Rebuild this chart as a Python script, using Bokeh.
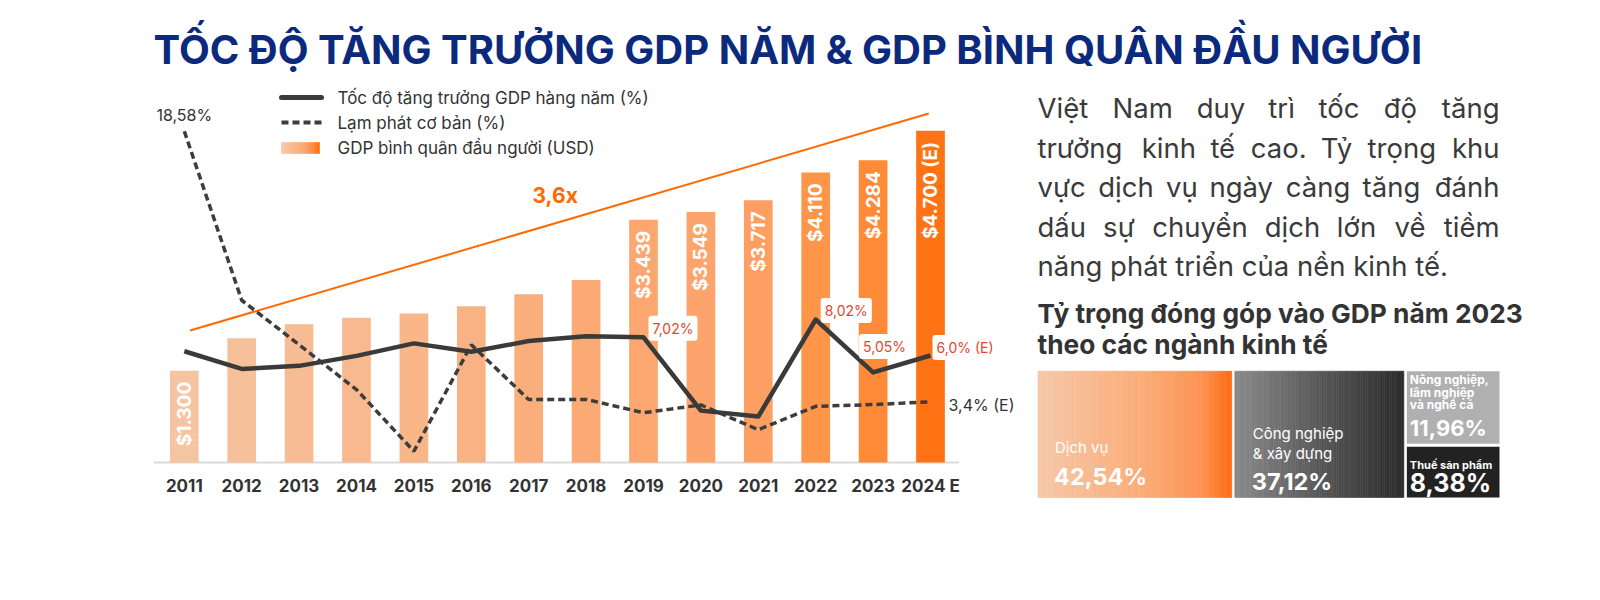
import unicodedata
import numpy as np
from math import pi
from bokeh.plotting import figure
from bokeh.models import Range1d, ColumnDataSource
from bokeh.core.properties import value
from bokeh.embed import file_html
from bokeh.resources import INLINE

# ---------------- data ----------------
years = ["2011", "2012", "2013", "2014", "2015", "2016", "2017", "2018",
         "2019", "2020", "2021", "2022", "2023", "2024 E"]
gdp_per_capita = [1300, 1760, 1960, 2050, 2110, 2215, 2385, 2587,
                  3439, 3549, 3717, 4110, 4284, 4700]
gdp_growth = [6.24, 5.25, 5.42, 5.98, 6.68, 6.21, 6.81, 7.08,
              7.02, 2.91, 2.58, 8.02, 5.05, 6.0]
core_inflation = [18.58, 9.1, 6.6, 4.09, 0.63, 6.6, 3.53, 3.54,
                  2.79, 3.23, 1.84, 3.15, 3.25, 3.4]
bar_label_years = ["2011", "2019", "2020", "2021", "2022", "2023", "2024 E"]
growth_label_years = ["2019", "2022", "2023", "2024 E"]
trend_years = [0.1, 12.97]          # year index
trend_usd = [1870, 4945]            # "3,6x" guide line

sectors = ["Dịch vụ", "Công nghiệp & xây dựng",
           "Nông nghiệp, lâm nghiệp và nghề cá", "Thuế sản phẩm"]
sector_share = [42.54, 37.12, 11.96, 8.38]

title = "TỐC ĐỘ TĂNG TRƯỞNG GDP NĂM & GDP BÌNH QUÂN ĐẦU NGƯỜI"
legend_labels = ["Tốc độ tăng trưởng GDP hàng năm (%)", "Lạm phát cơ bản (%)",
                 "GDP bình quân đầu người (USD)"]
paragraph = [
    "Việt Nam duy trì tốc độ tăng",
    "trưởng kinh tế cao. Tỷ trọng khu",
    "vực dịch vụ ngày càng tăng đánh",
    "dấu sự chuyển dịch lớn về tiềm",
    "năng phát triển của nền kinh tế.",
]
subtitle = ["Tỷ trọng đóng góp vào GDP năm 2023", "theo các ngành kinh tế"]

# ---------------- styles / layout ----------------
FONT = value("Inter")
NAVY = "#0c2a7d"
DARK = "#333333"
ORANGE = "#ff6a00"
RED = "#e8452c"
bar_colors = ["#f5c4a1", "#f6c09b", "#f7bc94", "#f8b98e", "#f8b689", "#f9b283",
              "#faae7c", "#fbaa75", "#fca76f", "#fca46b", "#fd9f63", "#fe9549",
              "#ff8a38", "#ff7314"]

W, H = 1584, 584
PL, PT = 0, 0              # page position of the frame's top-left corner
PR, PB = PL + W, PT + H
BASE = 462.0               # page y of chart baseline
PX_USD = 0.07057
PX_PCT = 17.83
X0, DX = 183.8, 57.4       # page x of first bar centre, bar spacing
BL_FIX = -9.5              # correction for alphabetic baseline placement

p = figure(width=W, height=H, output_backend="svg", toolbar_location=None,
           x_range=Range1d(PL, PR), y_range=Range1d(PB, PT),
           x_axis_location=None, y_axis_location=None, min_border=0)
p.grid.visible = False
p.outline_line_color = None
p.background_fill_color = "white"
p.border_fill_color = "white"

p.extra_x_ranges = {"yr": Range1d((PL - X0) / DX, (PR - X0) / DX)}
p.extra_y_ranges = {"usd": Range1d((BASE - PB) / PX_USD, (BASE - PT) / PX_USD),
                    "pct": Range1d((BASE - PB) / PX_PCT, (BASE - PT) / PX_PCT)}


def fmt_pct(v, dec=2):
    return (f"{v:.{dec}f}").replace(".", ",") + "%"


def lerp_color(stops, t):
    for (t0, c0), (t1, c1) in zip(stops[:-1], stops[1:]):
        if t <= t1:
            f = 0 if t1 == t0 else (t - t0) / (t1 - t0)
            a = [int(c0[i:i + 2], 16) for i in (1, 3, 5)]
            b = [int(c1[i:i + 2], 16) for i in (1, 3, 5)]
            return "#%02x%02x%02x" % tuple(round(a[k] + (b[k] - a[k]) * f) for k in range(3))
    return stops[-1][1]


def gradient_rect(left, right, top, bottom, stops, n=60):
    edges = np.linspace(left, right, n + 1)
    cols = [lerp_color(stops, (k + 0.5) / n) for k in range(n)]
    p.quad(left=edges[:-1], right=edges[1:], top=top, bottom=bottom,
           fill_color=cols, line_color=cols, line_width=0.6)


# approximate advance widths (em) used to justify the paragraph
CW = {'a': .56, 'b': .6, 'c': .55, 'd': .6, 'e': .57, 'f': .34, 'g': .6, 'h': .58,
      'i': .24, 'j': .24, 'k': .52, 'l': .24, 'm': .87, 'n': .58, 'o': .58, 'p': .6,
      'q': .6, 'r': .36, 's': .52, 't': .35, 'u': .58, 'v': .53, 'w': .78, 'x': .52,
      'y': .53, 'z': .5, 'N': .72, 'V': .67, 'T': .62, '.': .27, ' ': .27}


def est_width(word, size):
    w = 0.0
    for ch in word:
        dec = unicodedata.normalize("NFD", ch)
        base = 'd' if ch in 'đ' else dec[0]
        w += CW.get(base, .58) + (0.06 if '\u031b' in dec else 0)
    return w * size * 1.03


# ---------------- title ----------------
p.text(x=[153], y=[60 + BL_FIX - 1.5], text=[title], text_font=FONT, text_font_style="bold",
       text_font_size="40px", text_color=NAVY, text_baseline="alphabetic")

# ---------------- chart ----------------
idx = list(range(len(years)))
src = ColumnDataSource(dict(
    i=idx, year=years, gdp=gdp_per_capita, growth=gdp_growth, infl=core_inflation,
    color=bar_colors,
    blabel=[("$" + f"{v:,}".replace(",", ".") + (" (E)" if y.endswith("E") else ""))
            if y in bar_label_years else "" for y, v in zip(years, gdp_per_capita)],
))

p.segment(x0=[-0.53], x1=[13.5], y0=[0], y1=[0], x_range_name="yr", y_range_name="usd",
          line_color="#d9d9d9", line_width=2)

p.vbar(x="i", top="gdp", bottom=0, width=0.5, source=src, x_range_name="yr",
       y_range_name="usd", fill_color="color", line_color=None)

p.text(x="i", y="gdp", text="blabel", source=src, x_range_name="yr", y_range_name="usd",
       angle=pi / 2, text_align="right", text_baseline="middle", y_offset=11,
       text_color="white", text_font=FONT, text_font_style="bold", text_font_size="19px")

p.line(x=trend_years, y=trend_usd, x_range_name="yr", y_range_name="usd",
       line_color=ORANGE, line_width=2)
p.text(x=[532], y=[195], text=["3,6x"], text_font=FONT, text_font_style="bold",
       text_font_size="21px", text_color=ORANGE, text_baseline="middle")

p.line(x="i", y="infl", source=src, x_range_name="yr", y_range_name="pct",
       line_color="#3d3d3d", line_width=3.5, line_dash="7 4")
p.line(x="i", y="growth", source=src, x_range_name="yr", y_range_name="pct",
       line_color="#3a3a3a", line_width=4.5, line_join="round")

gl_i = [years.index(y) for y in growth_label_years]
gl_src = ColumnDataSource(dict(
    i=gl_i, v=[gdp_growth[k] for k in gl_i],
    t=[fmt_pct(gdp_growth[k], 1 if years[k].endswith("E") else 2) +
       (" (E)" if years[k].endswith("E") else "") for k in gl_i],
    dx=[5, 5, -14, 2], dy=[-9, -9, -26, -8],
))
p.text(x="i", y="v", text="t", source=gl_src, x_range_name="yr", y_range_name="pct",
       x_offset="dx", y_offset="dy", text_baseline="middle", text_align="left",
       text_color=RED, text_font=FONT, text_font_size="14px",
       background_fill_color="white", padding=4, border_radius=3)

p.text(x=[0], y=[core_inflation[0]], x_range_name="yr", y_range_name="pct",
       text=[fmt_pct(core_inflation[0])], y_offset=-16, text_align="center",
       text_baseline="middle", text_color=DARK, text_font=FONT, text_font_size="16px")
p.text(x=[len(years) - 1], y=[core_inflation[-1]], x_range_name="yr", y_range_name="pct",
       text=[fmt_pct(core_inflation[-1], 1) + " (E)"], x_offset=18, y_offset=3,
       text_align="left", text_baseline="middle", text_color=DARK, text_font=FONT,
       text_font_size="16px")

p.text(x="i", y=0, text="year", source=src, x_range_name="yr", y_range_name="usd",
       y_offset=23, text_align="center", text_baseline="middle", text_color=DARK,
       text_font=FONT, text_font_style="bold", text_font_size="17px")

# ---------------- legend ----------------
p.line(x=[281, 321], y=[97, 97], line_color="#3a3a3a", line_width=5, line_cap="round")
p.line(x=[281, 321], y=[122, 122], line_color="#3d3d3d", line_width=4, line_dash="7 4")
gradient_rect(281, 319, 142, 153, [(0, "#f7cbac"), (0.6, "#fba66e"), (0.85, "#fd8c40"), (1, "#ff6a00")], n=20)
p.text(x=[337] * 3, y=[97, 122, 147], text=legend_labels, text_baseline="middle",
       text_color=DARK, text_font=FONT, text_font_size="17px")

# ---------------- paragraph (justified) ----------------
PARA_L, PARA_R, PARA_SIZE = 1037, 1499, 27.5
para_base = [b + BL_FIX for b in [117, 156.5, 196, 235.5, 275]]
for li, line in enumerate(paragraph):
    if li < len(paragraph) - 1:
        words = line.split(" ")
        widths = [est_width(w, PARA_SIZE) for w in words]
        gap = (PARA_R - PARA_L - sum(widths)) / (len(words) - 1)
        xs, cur = [], PARA_L
        for w in widths[:-1]:
            xs.append(cur)
            cur += w + gap
        p.text(x=xs, y=[para_base[li]] * len(xs), text=words[:-1],
               text_baseline="alphabetic", text_color="#3a3a3a", text_font=FONT,
               text_font_size=f"{PARA_SIZE}px")
        p.text(x=[PARA_R], y=[para_base[li]], text=[words[-1]], text_align="right",
               text_baseline="alphabetic", text_color="#3a3a3a", text_font=FONT,
               text_font_size=f"{PARA_SIZE}px")
    else:
        p.text(x=[PARA_L], y=[para_base[li]], text=[line], text_baseline="alphabetic",
               text_color="#3a3a3a", text_font=FONT, text_font_size=f"{PARA_SIZE}px")

# ---------------- subtitle ----------------
p.text(x=[1037, 1037], y=[322.5 + BL_FIX, 353 + BL_FIX], text=subtitle,
       text_baseline="alphabetic", text_color=DARK, text_font=FONT,
       text_font_style="bold", text_font_size="26.3px")

# ---------------- treemap ----------------
TM_L, TM_R, TM_T, TM_B, GAP = 1037.5, 1499.0, 370.7, 497.0, 3.0
tot = sum(sector_share)
avail_w = (TM_R - TM_L) - 2 * GAP
w0 = avail_w * sector_share[0] / tot
w1 = avail_w * sector_share[1] / tot
c0 = (TM_L, TM_L + w0)
c1 = (c0[1] + GAP, c0[1] + GAP + w1)
c2 = (c1[1] + GAP, TM_R)
avail_h = (TM_B - TM_T) - GAP
h2 = avail_h * sector_share[2] / (sector_share[2] + sector_share[3])
r2 = (TM_T, TM_T + h2)
r3 = (r2[1] + GAP, TM_B)

gradient_rect(c0[0], c0[1], TM_T, TM_B,
              [(0, "#f6c8a8"), (0.55, "#fbab77"), (0.85, "#fd9150"), (1, "#ff6a10")], n=80)
gradient_rect(c1[0], c1[1], TM_T, TM_B,
              [(0, "#8a8a8a"), (0.5, "#585858"), (1, "#2b2b2b")], n=70)
p.quad(left=[c2[0], c2[0]], right=[c2[1], c2[1]], top=[r2[0], r3[0]], bottom=[r2[1], r3[1]],
       fill_color=["#b0b0b0", "#222222"], line_color=None)

share_txt = [fmt_pct(v) for v in sector_share]
p.text(x=[c0[0] + 17], y=[447], text=[sectors[0]], text_baseline="middle",
       text_color="white", text_font=FONT, text_font_size="15px")
p.text(x=[c0[0] + 16], y=[476], text=[share_txt[0]], text_baseline="middle",
       text_color="white", text_font=FONT, text_font_style="bold", text_font_size="23.5px")
cn = sectors[1].split(" & ")
p.text(x=[c1[0] + 18] * 2, y=[433, 453], text=[cn[0], "& " + cn[1]], text_baseline="middle",
       text_color="white", text_font=FONT, text_font_size="15px")
p.text(x=[c1[0] + 17], y=[481], text=[share_txt[1]], text_baseline="middle",
       text_color="white", text_font=FONT, text_font_style="bold", text_font_size="23.5px")
nn = ["Nông nghiệp,", "lâm nghiệp", "và nghề cá"]
p.text(x=[c2[0] + 3] * 3, y=[379, 391.5, 404], text=nn, text_baseline="middle",
       text_color="white", text_font=FONT, text_font_style="bold", text_font_size="12px")
p.text(x=[c2[0] + 3], y=[427], text=[share_txt[2]], text_baseline="middle",
       text_color="white", text_font=FONT, text_font_style="bold", text_font_size="22px")
p.text(x=[c2[0] + 3], y=[464], text=[sectors[3]], text_baseline="middle",
       text_color="white", text_font=FONT, text_font_style="bold", text_font_size="11px")
p.text(x=[c2[0] + 3], y=[482], text=[share_txt[3]], text_baseline="middle",
       text_color="white", text_font=FONT, text_font_style="bold", text_font_size="25px")

open("out.html", "w").write(file_html(p, INLINE))
